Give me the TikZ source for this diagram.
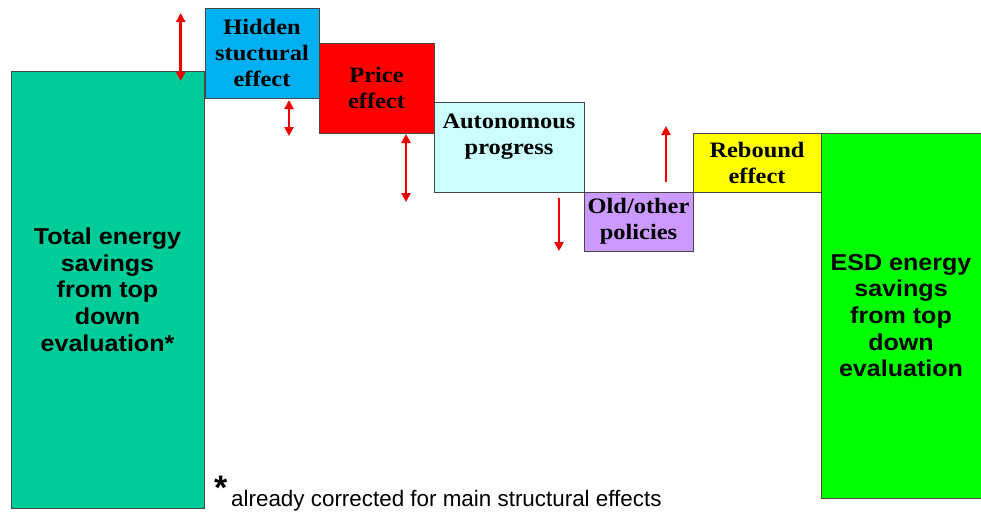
\documentclass[tikz,border=0pt]{standalone}
\usepackage{fontspec}
\setmainfont{Liberation Serif}
\newfontfamily\lblfont[FakeStretch=1.11]{Liberation Serif}
\newfontfamily\bigfont[FakeStretch=1.09]{Liberation Sans}
\newfontfamily\notefont{Liberation Sans}
\usetikzlibrary{arrows.meta}
\definecolor{ctotal}{RGB}{0,204,153}
\definecolor{chidden}{RGB}{0,176,240}
\definecolor{cprice}{RGB}{255,0,0}
\definecolor{cauto}{RGB}{204,255,255}
\definecolor{cold}{RGB}{204,153,255}
\definecolor{creb}{RGB}{255,255,0}
\definecolor{cesd}{RGB}{0,255,0}
\definecolor{carr}{RGB}{240,0,0}
\definecolor{cedge}{RGB}{70,70,70}
\tikzset{
  box/.style={draw=cedge, line width=0.8pt, inner sep=0pt, align=center},
  serlbl/.style={font=\lblfont\bfseries\fontsize{22}{26}\selectfont},
  sanlbl/.style={font=\bigfont\bfseries\fontsize{23}{26.7}\selectfont},
  dbl/.style={draw=carr, line width=2.8pt, {Triangle[length=9pt,width=9pt]}-{Triangle[length=9pt,width=9pt]}},
  sgl/.style={draw=carr, line width=2.8pt, -{Triangle[length=9pt,width=9pt]}},
}
\begin{document}
\begin{tikzpicture}[x=1pt,y=-1pt]
\useasboundingbox (0,0) rectangle (981,511);
% boxes
\node[box, sanlbl, fill=ctotal, minimum width=193pt, minimum height=437pt] (total) at (107.5,289.5)
  {Total energy\\savings\\from top\\down\\evaluation*};
\node[box, serlbl, fill=chidden, minimum width=114pt, minimum height=90pt] (hidden) at (262,53)
  {Hidden\\stuctural\\effect};
\node[box, serlbl, fill=cprice, minimum width=115pt, minimum height=90pt] (price) at (376.5,88)
  {Price\\effect};
\node[box, fill=cauto, minimum width=150pt, minimum height=90pt] (auto) at (509,147) {};
\node[serlbl, inner sep=0pt, align=center] (autolbl) at (509,137) {Autonomous\\progress};
\node[box, serlbl, fill=cold, minimum width=109pt, minimum height=59pt] (old) at (638.5,221.5)
  {Old/other\\policies};
\node[box, serlbl, fill=creb, minimum width=128pt, minimum height=59pt] (reb) at (757,162.5)
  {Rebound\\effect};
\node[box, sanlbl, fill=cesd, minimum width=160pt, minimum height=365pt] (esd) at (901,315.5)
  {ESD energy\\savings\\from top\\down\\evaluation};
% arrows
\coordinate (a1t) at (180.7,13);  \coordinate (a1b) at (180.7,81);
\coordinate (a2t) at (289,100);   \coordinate (a2b) at (289,136);
\coordinate (a3t) at (406,134);   \coordinate (a3b) at (406,202);
\coordinate (a4t) at (559,198);   \coordinate (a4b) at (559,251);
\coordinate (a5t) at (666,126);   \coordinate (a5b) at (666,182);
\draw[dbl] (a1t) -- (a1b);
\draw[dbl] (a2t) -- (a2b);
\draw[dbl] (a3t) -- (a3b);
\draw[sgl] (a4t) -- (a4b);
\draw[sgl] (a5b) -- (a5t);
% footnote
\node[anchor=base west, inner sep=0pt, font=\notefont\bfseries\fontsize{34}{34}\selectfont] (star) at (214,499) {*};
\node[anchor=base west, inner sep=0pt, font=\notefont\fontsize{22.4}{26}\selectfont] (note) at (231,506)
  {already corrected for main structural effects};
\end{tikzpicture}
\end{document}
